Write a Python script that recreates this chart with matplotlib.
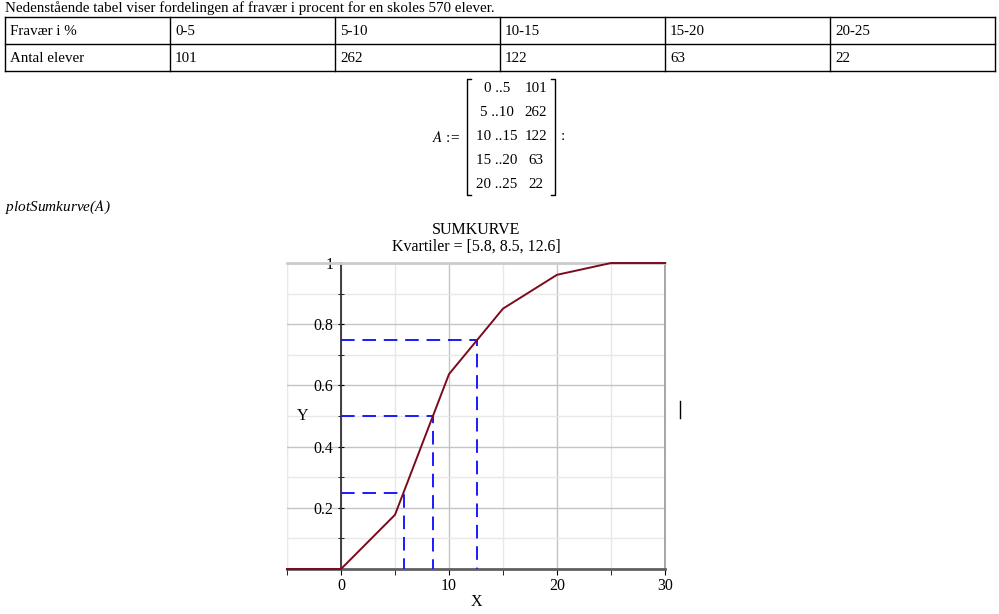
import matplotlib
matplotlib.use("Agg")
import matplotlib.pyplot as plt
from matplotlib.ticker import MultipleLocator, FuncFormatter
import numpy as np

plt.rcParams['font.family'] = ['Liberation Serif', 'DejaVu Serif']

# data
intervals = ["0-5", "5-10", "10-15", "15-20", "20-25"]
lower = [0, 5, 10, 15, 20]
upper = [5, 10, 15, 20, 25]
counts = [101, 262, 122, 63, 22]
quartiles = [5.8, 8.5, 12.6]
levels = [0.25, 0.5, 0.75]

W, H = 999, 614
fig = plt.figure(figsize=(W / 100, H / 100), dpi=100)


def fx(px):
    return px / W


def fy(py):
    return 1 - py / H


# overlay in pixel coordinates for the worksheet parts
bx = fig.add_axes([0, 0, 1, 1], facecolor='none')
bx.set_xlim(0, W)
bx.set_ylim(H, 0)
bx.axis('off')

# intro text and table
fig.text(fx(5), fy(1), "Nedenstående tabel viser fordelingen af fravær i procent for en skoles %d elever." % sum(counts),
         fontsize=10.8, va='top', ha='left')

rows = [["Fravær i %"] + intervals, ["Antal elever"] + [str(c) for c in counts]]
col_x = np.linspace(5, 995, len(intervals) + 2)
row_edges = [17, 44, 71]
for yy in row_edges:
    bx.plot([col_x[0], col_x[-1]], [yy, yy], color='black', lw=1)
for xx in col_x:
    bx.plot([xx, xx], [row_edges[0], row_edges[-1]], color='black', lw=1)
for r, row in enumerate(rows):
    yc = (row_edges[r] + row_edges[r + 1]) / 2 + 1
    for c, txt in enumerate(row):
        bx.text(col_x[c] + 5, yc, txt, fontsize=10.8, ha='left', va='center')

# matrix A
fig.text(fx(460), fy(137), r"$A$ :=", fontsize=11, ha='right', va='center',
         math_fontfamily='stix')
row_y = [88, 112, 137, 161, 185]
for i in range(len(counts)):
    bx.text(497, row_y[i], "%d ..%d" % (lower[i], upper[i]), fontsize=10.8,
            ha='center', va='center')
    bx.text(536, row_y[i], str(counts[i]), fontsize=10.8, ha='center', va='center')
bx.plot([471, 467, 467, 471], [79, 79, 195, 195], color='black', lw=1)
bx.plot([551, 555, 555, 551], [79, 79, 195, 195], color='black', lw=1)
bx.text(561, 137, ":", fontsize=11, ha='left', va='center')

fig.text(fx(5), fy(207), "plotSumkurve($A$)", fontsize=11, style='italic', ha='left', va='center',
         math_fontfamily='stix')

# sumkurve
cum = np.concatenate([[0], np.cumsum(counts) / sum(counts)])
xs = np.concatenate([[-5], [lower[0]], upper, [30]])
ys = np.concatenate([[0], cum, [1]])

ax = fig.add_axes([fx(287), fy(569), fx(665 - 287), (569 - 263) / H])
ax.set_xlim(-5, 30)
ax.set_ylim(0, 1)

ax.xaxis.set_major_locator(MultipleLocator(10))
ax.xaxis.set_minor_locator(MultipleLocator(5))
ax.yaxis.set_major_locator(MultipleLocator(0.2))
ax.yaxis.set_minor_locator(MultipleLocator(0.1))
ax.grid(which='major', color='#c4c4c4', lw=1)
ax.grid(which='minor', color='#e8e8e8', lw=1)
ax.set_axisbelow(True)

ax.spines['left'].set_position(('data', 0))
ax.spines['left'].set_color('#333333')
ax.spines['left'].set_linewidth(1.3)
ax.spines['bottom'].set_color('#606060')
ax.spines['bottom'].set_linewidth(2)
ax.spines['top'].set_color('#cccccc')
ax.spines['top'].set_linewidth(2)
ax.spines['right'].set_color('#999999')
ax.spines['right'].set_linewidth(1.2)
ax.axvline(-5, color='#e6e6e6', lw=1.5, zorder=0)

ax.tick_params(axis='x', which='both', direction='out', length=4, color='black', labelsize=11.5, pad=2.5)
ax.tick_params(axis='y', which='both', direction='inout', length=5, color='black', labelsize=11.5, pad=3)
ax.set_yticks([0.2, 0.4, 0.6, 0.8, 1.0])
ax.yaxis.set_major_formatter(FuncFormatter(lambda v, p: "%g" % round(v, 2)))
ax.set_xticks([0, 10, 20, 30])

ax.plot(xs, ys, color='#7c0a1e', lw=1.4, zorder=4, clip_on=False)
for q, lv in zip(quartiles, levels):
    ax.plot([0, q, q], [lv, lv, 0], color='#1a1aff', lw=1.4, dashes=(7, 4), zorder=3)

ax.set_xlabel("X", fontsize=11.5, labelpad=0)
ax.text(-3.6, 0.5, "Y", fontsize=11.5, ha='center', va='center')
ax.set_title("SUMKURVE\nKvartiler = [%s]" % ", ".join(str(q) for q in quartiles),
             fontsize=11.5, pad=9, linespacing=1.05)

bx.plot([680, 680], [401, 418], color='black', lw=1)

fig.savefig("out.png", dpi=100)
